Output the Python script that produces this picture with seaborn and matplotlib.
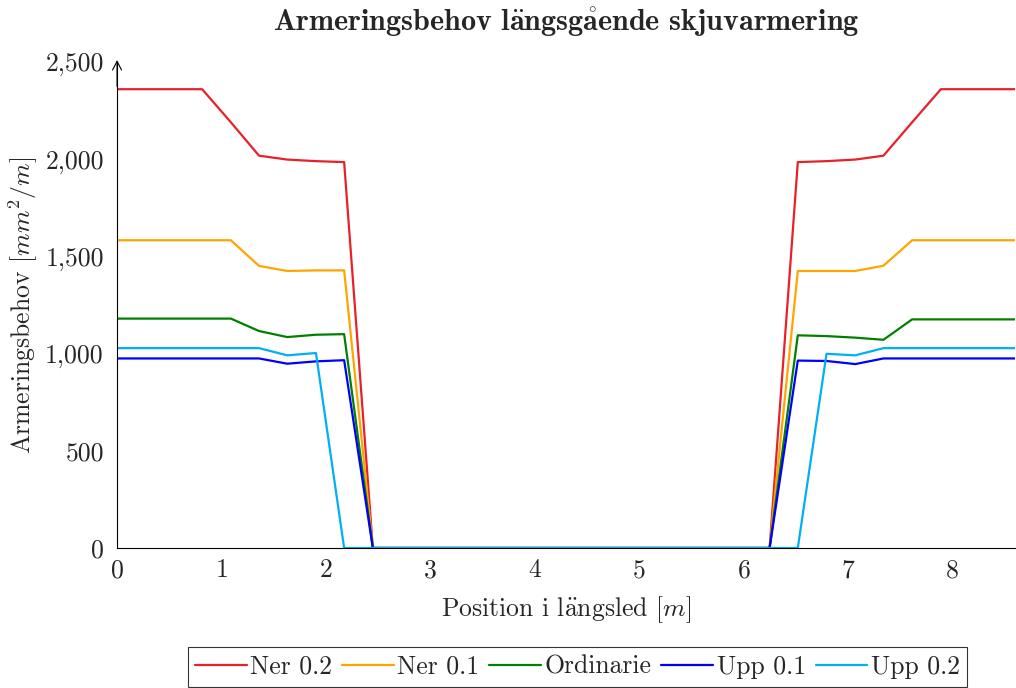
import matplotlib
matplotlib.use("Agg")
import matplotlib.pyplot as plt
from matplotlib.ticker import FuncFormatter, MultipleLocator
import seaborn as sns
import pandas as pd

# Positions along the beam [m]
position = [0.0, 0.815, 1.09, 1.36, 1.63, 1.905, 2.175, 2.45,
            6.25, 6.52, 6.795, 7.07, 7.34, 7.615, 7.89, 8.6]

# Reinforcement demand [mm^2/m] per load case
ner_02 = [2360, 2360, 2190, 2018, 1998, 1990, 1985, 0,
          0, 1985, 1990, 1998, 2018, 2190, 2360, 2360]
ner_01 = [1583, 1583, 1583, 1451, 1425, 1428, 1428, 0,
          0, 1425, 1425, 1425, 1452, 1583, 1583, 1583]
ordinarie = [1180, 1180, 1180, 1116, 1085, 1097, 1100, 0,
             0, 1094, 1090, 1082, 1071, 1176, 1176, 1176]
upp_01 = [975, 975, 975, 975, 948, 960, 966, 0,
          0, 964, 962, 946, 975, 975, 975, 975]
upp_02 = [1028, 1028, 1028, 1028, 991, 1003, 0, 0,
          0, 0, 999, 991, 1028, 1028, 1028, 1028]

series_names = ["Ner 0.2", "Ner 0.1", "Ordinarie", "Upp 0.1", "Upp 0.2"]
series_values = [ner_02, ner_01, ordinarie, upp_01, upp_02]
series_colors = ["#e8202a", "#ffa500", "#008000", "#0000ff", "#00b0f0"]

frames = [pd.DataFrame({"Position": position, "Behov": vals, "Fall": name})
          for name, vals in zip(series_names, series_values)]
df = pd.concat(frames, ignore_index=True)

sns.set_style("white")
plt.rcParams["font.family"] = ["cmr10", "DejaVu Serif"]
plt.rcParams["mathtext.fontset"] = "cm"
plt.rcParams["axes.formatter.use_mathtext"] = True
plt.rcParams["font.size"] = 18

FS = 18.5

fig = plt.figure(figsize=(10.16, 6.88), dpi=100)
ax = fig.add_axes([0.1152, 0.2035, 0.8838, 0.7064])

sns.lineplot(data=df, x="Position", y="Behov", hue="Fall",
             hue_order=series_names, palette=series_colors,
             linewidth=1.6, ax=ax, legend=False, sort=False,
             estimator=None)

ax.set_xlim(0, 8.6)
ax.set_ylim(0, 2500)
ax.xaxis.set_major_locator(MultipleLocator(1))
ax.yaxis.set_major_locator(MultipleLocator(500))
ax.yaxis.set_major_formatter(FuncFormatter(lambda v, p: f"{v:,.0f}"))

for side in ("top", "right"):
    ax.spines[side].set_visible(False)
for side in ("left", "bottom"):
    ax.spines[side].set_color("black")
    ax.spines[side].set_linewidth(0.8)

ax.tick_params(axis="both", direction="inout", length=7, width=0.6,
               color="#777777", labelsize=FS)
ax.tick_params(axis="y", pad=6)
ax.tick_params(axis="x", pad=4)

# arrow head on the value axis
ax.annotate("", xy=(0, 1.004), xycoords="axes fraction",
            xytext=(0, 0.95), textcoords="axes fraction",
            arrowprops=dict(arrowstyle="->,head_length=0.35,head_width=0.18",
                            color="black", lw=0.8, shrinkA=0, shrinkB=0))

ax.set_xlabel(r"Position i l$\ddot{\mathrm{a}}$ngsled [$m$]",
              fontsize=FS, labelpad=9)
ax.set_ylabel(r"Armeringsbehov [$mm^2/m$]", fontsize=FS, labelpad=4)
ax.set_title(r"Armeringsbehov l$\ddot{\mathbf{a}}$ngsg$\mathring{\mathbf{a}}$ende skjuvarmering",
             fontsize=21.7, family=["cmb10", "DejaVu Serif"], pad=22)

handles = [plt.Line2D([], [], color=c, lw=1.6) for c in series_colors]
leg = fig.legend(handles, series_names, loc="center",
                 bbox_to_anchor=(577.5 / 1016, 21 / 688), ncol=5,
                 frameon=True, fancybox=False, fontsize=FS,
                 handlelength=2.0, handletextpad=0.15, columnspacing=0.38,
                 borderpad=0.3)
leg.get_frame().set_edgecolor("black")
leg.get_frame().set_linewidth(0.8)

fig.savefig("out.png", dpi=100)
